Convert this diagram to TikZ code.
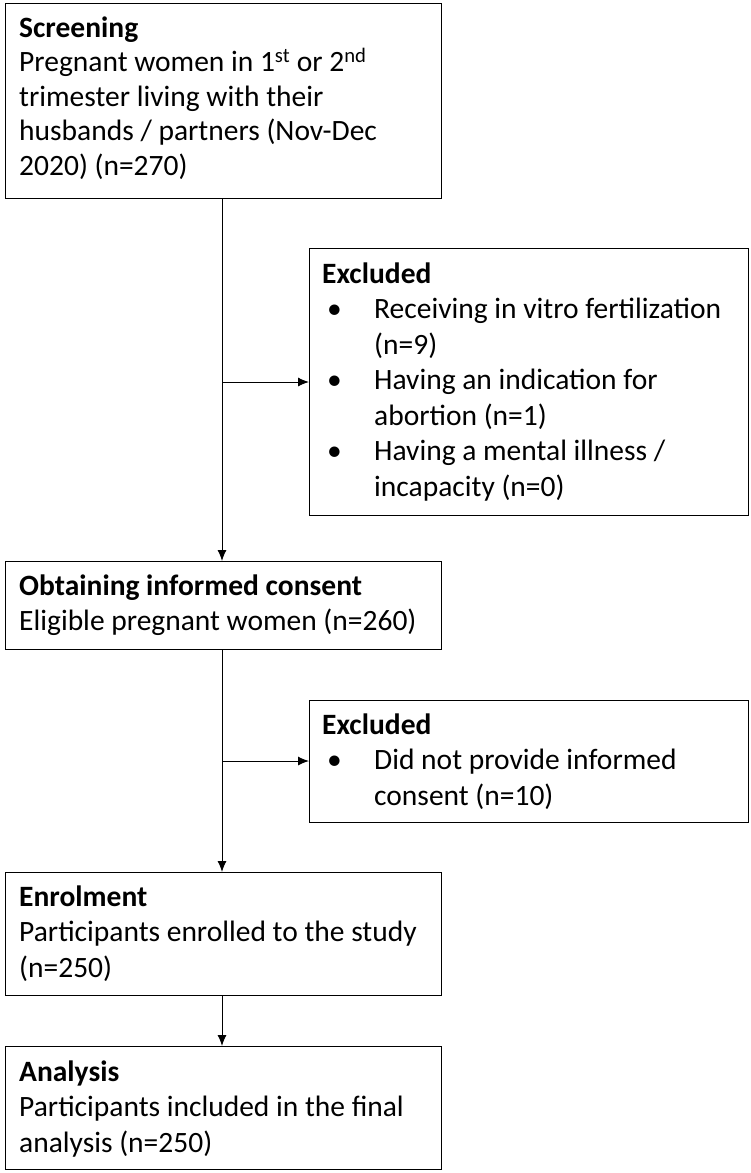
\documentclass[tikz,border=0pt]{standalone}
\usepackage{fontspec}
\setmainfont{Carlito}
\usetikzlibrary{arrows.meta}
\newcommand{\bit}[1]{\makebox[52pt][l]{\hspace*{5pt}\textbullet}#1}
\newcommand{\cnt}[1]{\hspace*{52pt}#1}
\begin{document}
\begin{tikzpicture}[x=1pt,y=-1pt,
  box/.style={draw,line width=1.3pt,anchor=north west,inner sep=0pt},
  txt/.style={anchor=north west,align=left,inner sep=0pt,font=\fontsize{29.5}{35.5}\selectfont},
  arr/.style={line width=1pt,-{Latex[length=11pt,width=9pt]}}]
\useasboundingbox (0,0) rectangle (750,1173);
\node[box,minimum width=436pt,minimum height=195pt] (s) at (5,3) {};
\node[txt,font=\fontsize{29.5}{34.5}\selectfont] at (19,13) {\strut\textbf{Screening}\\Pregnant women in 1\textsuperscript{st} or 2\textsuperscript{nd}\\trimester living with their\\husbands / partners (Nov-Dec\\2020) (n=270)};
\node[box,minimum width=439pt,minimum height=267pt] (e1) at (309,248) {};
\node[txt] at (322,258) {\strut\textbf{Excluded}\\\bit{Receiving in vitro fertilization}\\\cnt{(n=9)}\\\bit{Having an indication for}\\\cnt{abortion (n=1)}\\\bit{Having a mental illness /}\\\cnt{incapacity (n=0)}};
\node[box,minimum width=436pt,minimum height=88pt] (o) at (5,561) {};
\node[txt] at (19,570) {\strut\textbf{Obtaining informed consent}\\Eligible pregnant women (n=260)};
\node[box,minimum width=439pt,minimum height=122pt] (e2) at (309,700) {};
\node[txt] at (322,709) {\strut\textbf{Excluded}\\\bit{Did not provide informed}\\\cnt{consent (n=10)}};
\node[box,minimum width=436pt,minimum height=123pt] (en) at (5,872) {};
\node[txt] at (19,881) {\strut\textbf{Enrolment}\\Participants enrolled to the study\\(n=250)};
\node[box,minimum width=436pt,minimum height=123pt] (a) at (5,1046) {};
\node[txt] at (19,1056) {\strut\textbf{Analysis}\\Participants included in the final\\analysis (n=250)};
\coordinate (b1) at (222,382);
\coordinate (b2) at (222,761);
\draw[arr] (s.south -| b1) -- (o.north -| b1);
\draw[arr] (b1) -- (b1 -| e1.west);
\draw[arr] (o.south -| b2) -- (en.north -| b2);
\draw[arr] (b2) -- (b2 -| e2.west);
\draw[arr] (en.south -| b2) -- (a.north -| b2);
\end{tikzpicture}
\end{document}
